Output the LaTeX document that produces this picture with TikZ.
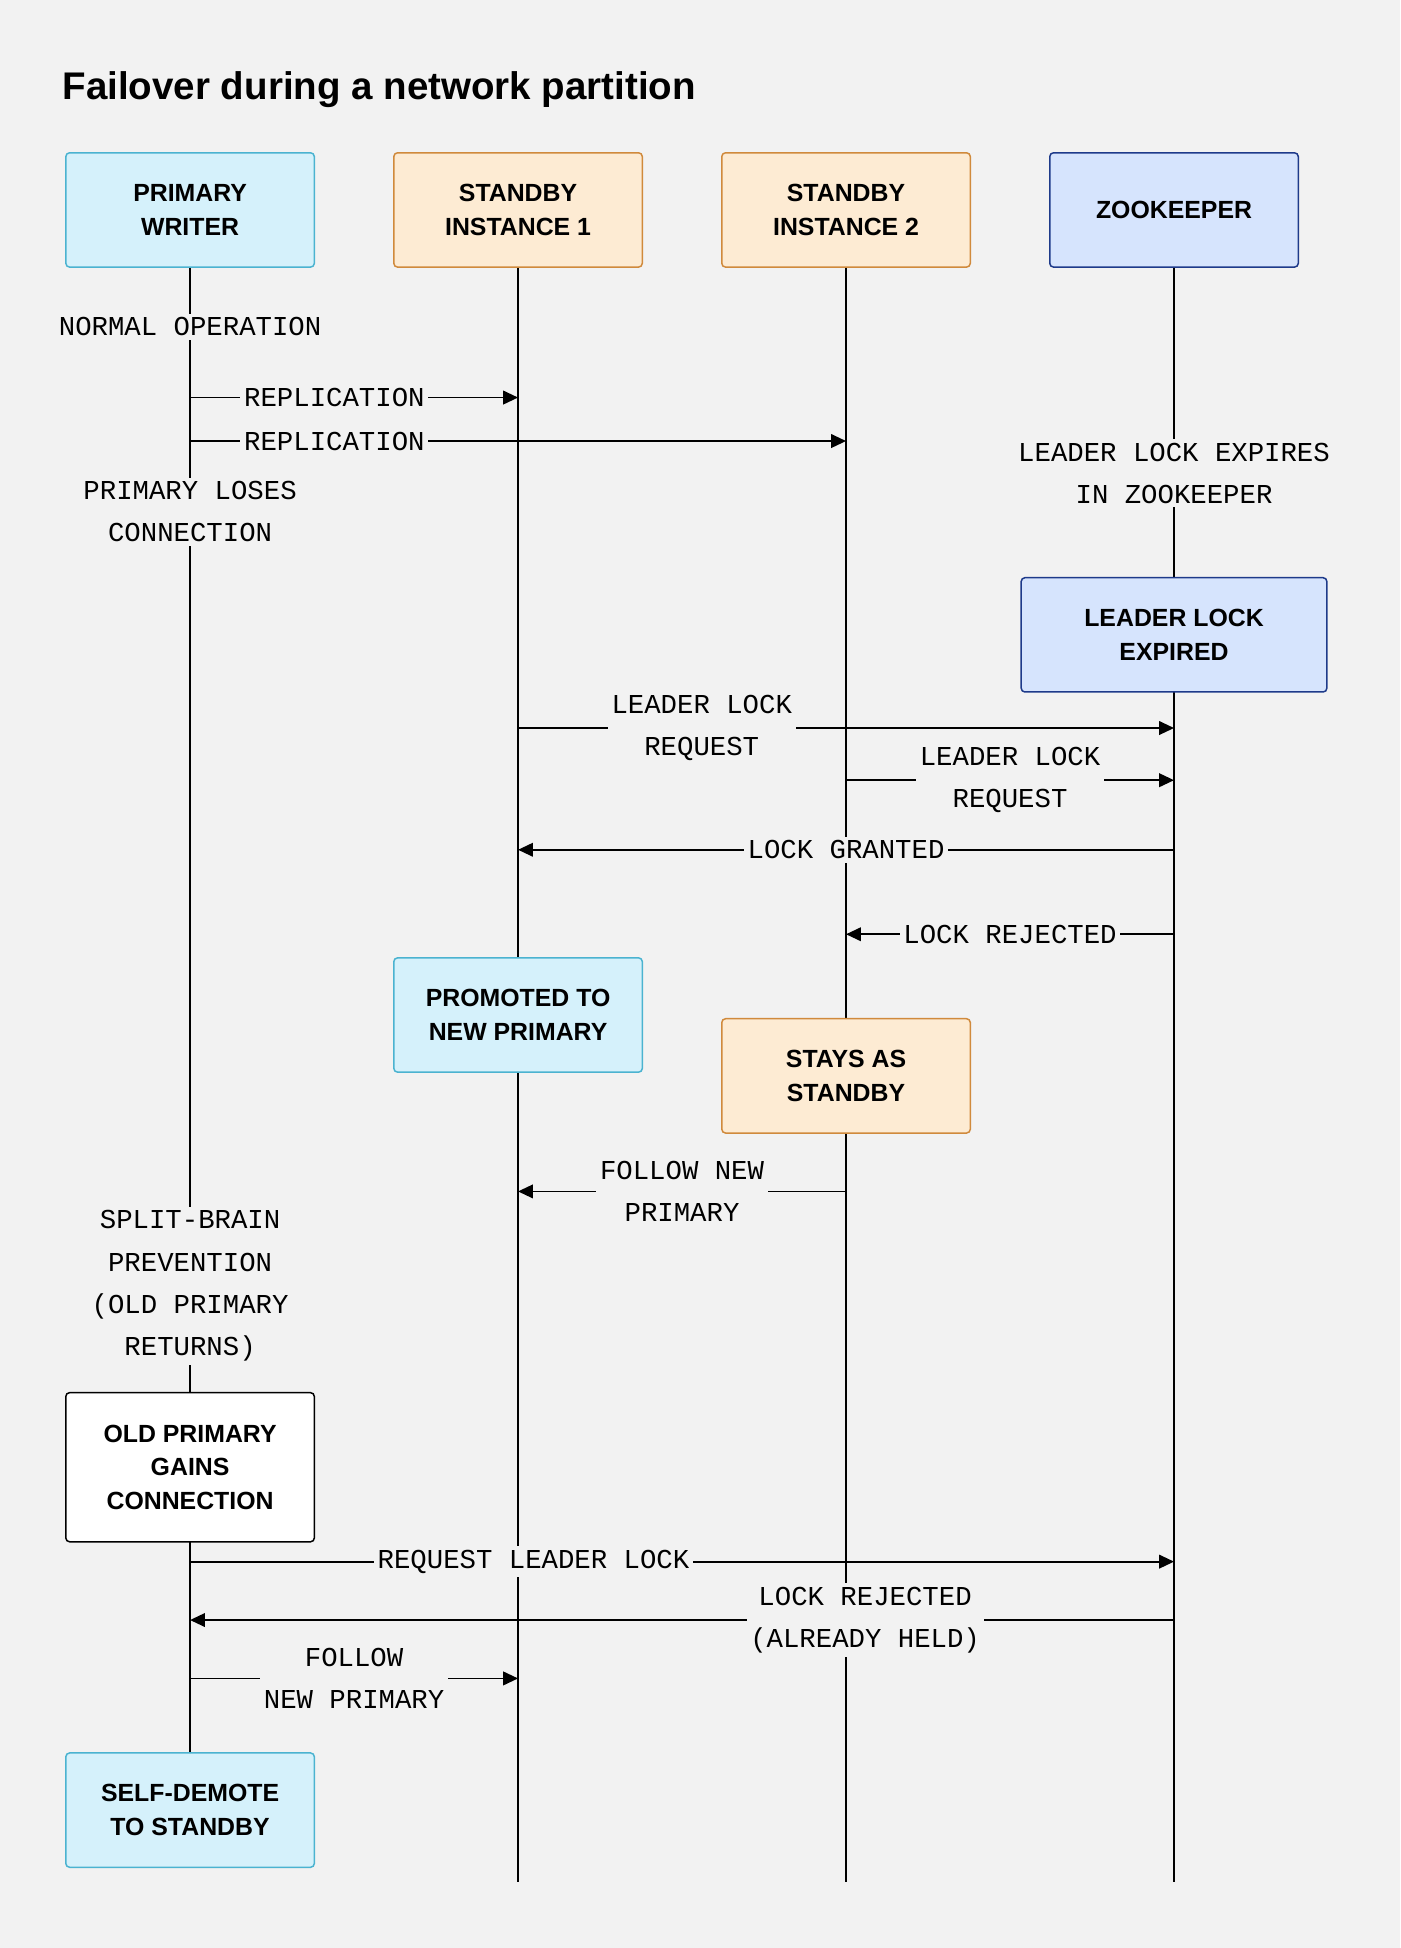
\documentclass[tikz,border=0pt]{standalone}
\usepackage{fontspec}
\setmainfont{Liberation Sans}
\newfontfamily\monofont{Liberation Mono}
\usetikzlibrary{positioning,arrows.meta}
\definecolor{bgc}{HTML}{F2F2F2}
\definecolor{cyanfill}{HTML}{D5F1FB}
\definecolor{cyanline}{HTML}{4BB3D0}
\definecolor{orfill}{HTML}{FDEBD3}
\definecolor{orline}{HTML}{D08A3C}
\definecolor{blfill}{HTML}{D6E4FD}
\definecolor{blline}{HTML}{1E3A8A}
\tikzset{
  box/.style={rectangle,rounded corners=1.5pt,minimum width=100pt,minimum height=46pt,
    align=center,font=\fontsize{10}{13.5}\selectfont\bfseries,line width=0.6pt},
  cbox/.style={box,fill=cyanfill,draw=cyanline},
  obox/.style={box,fill=orfill,draw=orline},
  bbox/.style={box,fill=blfill,draw=blline},
  wbox/.style={box,fill=white,draw=black},
  lbl/.style={fill=bgc,align=center,inner sep=1.5pt,font=\monofont\fontsize{11}{17}\selectfont},
  life/.style={line width=0.7pt},
  msg/.style={line width=0.7pt,-{Triangle[length=6pt,width=5.5pt]}}
}
\begin{document}
\begin{tikzpicture}[x=0.5pt,y=-0.5pt]
  \fill[bgc] (0,0) rectangle (1127,1568);
  \useasboundingbox (0,0) rectangle (1127,1568);
  \node[anchor=base west,inner sep=0,font=\fontsize{15.5}{18}\selectfont\bfseries] (title) at (50,80) {Failover during a network partition};
  % actors
  \node[cbox] (pw) at (153,169) {PRIMARY\\WRITER};
  \node[obox] (s1) at (417,169) {STANDBY\\INSTANCE 1};
  \node[obox] (s2) at (681,169) {STANDBY\\INSTANCE 2};
  \node[bbox] (zk) at (945,169) {ZOOKEEPER};
  \coordinate (s1end) at (417,1515);
  \coordinate (s2end) at (681,1515);
  \coordinate (zkend) at (945,1515);
  \coordinate (pwend) at (153,1411);
  % lifelines
  \draw[life] (pw) -- (pwend);
  \draw[life] (s1) -- (s1end);
  \draw[life] (s2) -- (s2end);
  \draw[life] (zk) -- (zkend);
  % points on lifelines
  \foreach \n/\x in {p/153,a/417,b/681,z/945}{
    \foreach \y in {320,355,586,628,684,752,959,1257,1304,1351}{
      \coordinate (\n\y) at (\x,\y);
    }
  }
  % notes
  \node[lbl] (normal) at (153,263) {NORMAL OPERATION};
  \node[lbl] (loses) at (153,412) {PRIMARY LOSES\\CONNECTION};
  \node[lbl] (expires) at (945,381) {LEADER LOCK EXPIRES\\IN ZOOKEEPER};
  \node[lbl] (split) at (153,1035) {SPLIT-BRAIN\\PREVENTION\\(OLD PRIMARY\\RETURNS)};
  % state boxes
  \node[bbox,minimum width=123pt] (expired) at (945,511) {LEADER LOCK\\EXPIRED};
  \node[cbox] (promoted) at (417,817) {PROMOTED TO\\NEW PRIMARY};
  \node[obox] (stays) at (681,866) {STAYS AS\\STANDBY};
  \node[wbox,minimum height=60pt] (gains) at (153,1181) {OLD PRIMARY\\GAINS\\CONNECTION};
  \node[cbox] (demote) at (153,1457) {SELF-DEMOTE\\TO STANDBY};
  % messages
  \draw[msg] (p320) -- node[lbl,pos=0.44]{REPLICATION} (a320);
  \draw[msg] (p355) -- node[lbl,pos=0.22]{REPLICATION} (b355);
  \draw[msg] (a586) -- node[lbl,pos=0.28]{LEADER LOCK\\REQUEST} (z586);
  \draw[msg] (b628) -- node[lbl,pos=0.5]{LEADER LOCK\\REQUEST} (z628);
  \draw[msg] (z684) -- node[lbl,pos=0.5]{LOCK GRANTED} (a684);
  \draw[msg] (z752) -- node[lbl,pos=0.5]{LOCK REJECTED} (b752);
  \draw[msg] (b959) -- node[lbl,pos=0.5]{FOLLOW NEW\\PRIMARY} (a959);
  \draw[msg] (p1257) -- node[lbl,pos=0.349]{REQUEST LEADER LOCK} (z1257);
  \draw[msg] (z1304) -- node[lbl,pos=0.314]{LOCK REJECTED\\(ALREADY HELD)} (p1304);
  \draw[msg] (p1351) -- node[lbl,pos=0.5]{FOLLOW\\NEW PRIMARY} (a1351);
\end{tikzpicture}
\end{document}
